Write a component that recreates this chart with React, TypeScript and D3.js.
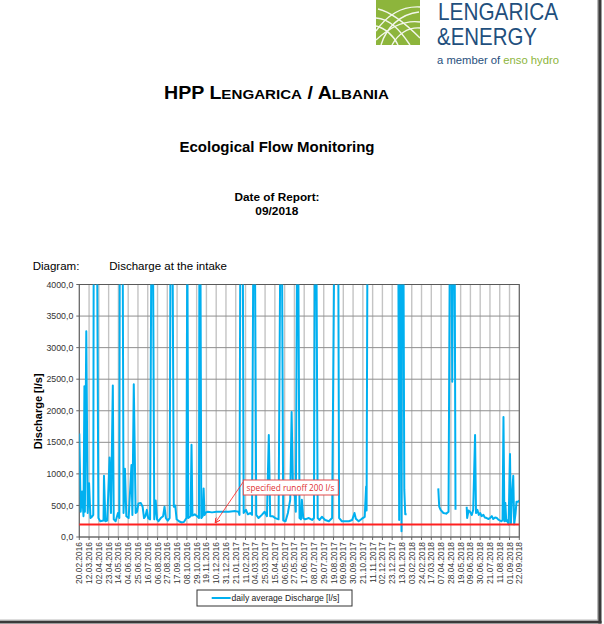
import React from "react";
import * as d3 from "d3";

const tickLabels = [
  "20.02.2016", "12.03.2016", "02.04.2016", "23.04.2016", "14.05.2016", "04.06.2016",
  "25.06.2016", "16.07.2016", "06.08.2016", "27.08.2016", "17.09.2016", "08.10.2016",
  "29.10.2016", "19.11.2016", "10.12.2016", "31.12.2016", "21.01.2017", "11.02.2017",
  "04.03.2017", "25.03.2017", "15.04.2017", "06.05.2017", "27.05.2017", "17.06.2017",
  "08.07.2017", "29.07.2017", "19.08.2017", "09.09.2017", "30.09.2017", "21.10.2017",
  "11.11.2017", "02.12.2017", "23.12.2017", "13.01.2018", "03.02.2018", "24.02.2018",
  "17.03.2018", "07.04.2018", "28.04.2018", "19.05.2018", "09.06.2018", "30.06.2018",
  "21.07.2018", "11.08.2018", "01.09.2018", "22.09.2018",
];

// day offsets from 20.02.2016 (null value = no data)
const dayOffsets = [
  0, 3, 6, 9, 11, 12, 15, 18, 21, 24, 27, 30, 31, 34, 36, 38, 41, 45, 52, 53, 56, 60, 65, 68, 72,
  74, 78, 83, 86, 87, 90, 93, 95, 98, 101, 106, 112, 114, 117, 121, 124, 127, 132, 136, 139, 142,
  145, 148, 152, 155, 158, 161, 164, 167, 170, 175, 180, 183, 186, 190, 194, 196, 200, 203, 206,
  209, 214, 220, 225, 230, 232, 234, 239, 241, 243, 248, 253, 257, 258, 260, 262, 265, 267, 269,
  272, 276, 285, 295, 306, 321, 335, 342, 344, 346, 348, 351, 353, 358, 362, 367, 371, 374, 377,
  380, 385, 392, 398, 403, 407, 410, 415, 421, 428, 432, 435, 438, 443, 448, 453, 456, 459, 463,
  465, 468, 470, 473, 476, 478, 481, 485, 493, 500, 504, 506, 509, 512, 516, 521, 528, 536, 543,
  548, 551, 553, 556, 558, 564, 571, 579, 586, 591, 594, 600, 607, 613, 616, 617, 619,
  650,
  685, 687, 688, 690, 692, 693, 696, 698, 700, 703,
  740,
  771, 773, 776, 782, 788, 793, 796, 799, 801, 803, 806, 808,
  820,
  832, 833, 836, 839, 843, 846, 850, 852, 855, 858, 861, 864, 868, 871, 875, 879, 882, 886, 889,
  893, 897, 900, 904, 907, 909, 911, 913, 915, 917, 919, 922, 925, 927, 929, 932, 934, 937, 939,
  943, 945,
];

const discharge: (number | null)[] = [
  1640, 400, 720, 330, 2390, 400, 3260, 380, 850, 300, 320, 350, 5000, 5000, 5000, 5000, 300, 250,
  260, 970, 250, 260, 1260, 380, 2400, 280, 250, 380, 300, 5000, 5000, 5000, 380, 1080, 330, 300,
  1140, 350, 2420, 380, 400, 530, 540, 480, 300, 330, 430, 300, 280, 5000, 5000, 280, 580, 280,
  250, 300, 330, 480, 300, 260, 300, 5000, 5000, 480, 500, 280, 250, 230, 240, 300, 5000, 300,
  330, 1460, 340, 360, 330, 300, 5000, 5000, 300, 330, 770, 350, 390, 400, 390, 400, 400, 400,
  410, 400, 350, 5000, 5000, 5000, 380, 430, 360, 380, 350, 5000, 5000, 350, 300, 350, 400, 330,
  1615, 330, 330, 300, 280, 5000, 5000, 260, 250, 380, 590, 1980, 700, 650, 400, 5000, 5000, 300,
  280, 590, 300, 280, 300, 270, 300, 5000, 5000, 300, 270, 320, 270, 250, 300, 5000, 5000, 5000,
  5000, 300, 250, 250, 250, 270, 380, 290, 250, 290, 320, 800, 420, 5000,
  null,
  5000, 270, 5000, 5000, 90, 5000, 5000, 750, 360, 360,
  null,
  770, 480, 430, 380, 370, 400, 5000, 5000, 2460, 5000, 5000, 430,
  null,
  480, 300, 420, 400, 350, 430, 1615, 380, 430, 350, 380, 330, 350, 310, 300, 285, 300, 330, 285,
  310, 300, 275, 260, 250, 270, 1900, 250, 540, 250, 270, 200, 1315, 220, 590, 970, 200, 380, 560,
  560, 580,
];

const yTicks = [0, 500, 1000, 1500, 2000, 2500, 3000, 3500, 4000];
const specifiedRunoff = 200;
const annotationText = "specified runoff 200 l/s";
const legendLabel = "daily average Discharge [l/s]";

const ARIAL = "'Liberation Sans', Arial, sans-serif";

export default function App() {
  const W = 604;
  const H = 624;
  const x0 = 79.3, x1 = 519.3, y0 = 284.5, y1 = 537;
  const parse = d3.timeParse("%d.%m.%Y");
  const tickDates = tickLabels.map((t) => parse(t) as Date);
  const start = tickDates[0];
  const end = tickDates[tickDates.length - 1];
  const x = d3.scaleTime().domain([start, end]).range([x0, x1]);
  const y = d3.scaleLinear().domain([0, 4000]).range([y1, y0]);

  const pts = dayOffsets.map((d, i) => ({ date: d3.timeDay.offset(start, d), v: discharge[i] }));
  const line = d3
    .line<{ date: Date; v: number | null }>()
    .defined((p) => p.v != null)
    .x((p) => x(p.date))
    .y((p) => y(p.v as number));
  const fmt = (v: number) => d3.format(".1f")(v).replace(".", ",");

  const blue = "#00b0f0";
  const red = "#ff2020";
  const navy = "#1f4f7d";
  const green = "#8db53c";

  return (
    <svg
      width={W}
      height={H}
      style={{ position: "absolute", left: 0, top: 0, background: "#fff" }}
      fontFamily={ARIAL}
    >
      <defs>
        <clipPath id="plotClip">
          <rect x={x0} y={y0} width={x1 - x0} height={y1 - y0} />
        </clipPath>
        <marker id="arr" viewBox="0 0 10 10" refX="9" refY="5" markerWidth="7" markerHeight="7" orient="auto">
          <path d="M0,0 L10,5 L0,10" fill="none" stroke={red} strokeWidth="1.6" />
        </marker>
      </defs>
      <rect x={0} y={0} width={W} height={H} fill="#fff" />

      {/* logo */}
      <rect x={376} y={0} width={44} height={45} fill={green} />
      <g stroke="#fff" strokeWidth={1.4} fill="none" opacity={0.9}>
        <path d="M376,31 C388,14 402,6 420,7" />
        <path d="M376,40 C391,26 405,20 420,22" />
        <path d="M381,45 C386,28 400,14 419,12" />
        <path d="M376,18 C390,19 400,30 410,45" />
        <path d="M378,9 C392,12 406,24 420,38" />
        <path d="M392,45 C398,34 408,27 420,28" />
        <path d="M376,26 C385,28 394,36 398,45" />
      </g>
      <text x={438} y={20} fontSize={24} fill={navy} textLength={120} lengthAdjust="spacingAndGlyphs" fontWeight={300}>
        LENGARICA
      </text>
      <text x={437} y={45} fontSize={24} fill={navy} textLength={100} lengthAdjust="spacingAndGlyphs" fontWeight={300}>
        &amp;ENERGY
      </text>
      <text x={437} y={64} fontSize={10.5} textLength={122} lengthAdjust="spacingAndGlyphs">
        <tspan fill={navy}>a member of </tspan>
        <tspan fill={green}>enso hydro</tspan>
      </text>

      {/* titles */}
      <g fontWeight="bold" fill="#000">
        <text x={164} y={98.5} textLength={225} lengthAdjust="spacingAndGlyphs">
          <tspan fontSize={17.5}>HPP L</tspan>
          <tspan fontSize={13.5}>ENGARICA</tspan>
          <tspan fontSize={17.5}> / A</tspan>
          <tspan fontSize={13.5}>LBANIA</tspan>
        </text>
        <text x={179.5} y={151.7} fontSize={14} textLength={195} lengthAdjust="spacingAndGlyphs">
          Ecological Flow Monitoring
        </text>
        <text x={234.5} y={201} fontSize={11} textLength={85} lengthAdjust="spacingAndGlyphs">Date of Report:</text>
        <text x={255.3} y={215} fontSize={11} textLength={43} lengthAdjust="spacingAndGlyphs">09/2018</text>
      </g>

      <text x={32.7} y={270} fontSize={11.5} fill="#000">Diagram:</text>
      <text x={109.3} y={270} fontSize={11.5} fill="#000">Discharge at the intake</text>

      {/* grid */}
      {tickDates.map((d, i) => (
        <line key={"vg" + i} x1={x(d)} x2={x(d)} y1={y0} y2={y1} stroke="#c4c4c4" strokeWidth={1.4} />
      ))}
      {yTicks.map((t) => (
        <line key={"hg" + t} x1={x0} x2={x1} y1={y(t)} y2={y(t)} stroke="#8f8f8f" strokeWidth={1} />
      ))}
      {/* ticks */}
      {tickDates.map((d, i) => (
        <line key={"xt" + i} x1={x(d)} x2={x(d)} y1={y1} y2={y1 + 3} stroke="#666" strokeWidth={1} />
      ))}
      {yTicks.map((t) => (
        <line key={"yt" + t} x1={x0 - 3} x2={x0} y1={y(t)} y2={y(t)} stroke="#666" strokeWidth={1} />
      ))}
      <rect x={x0} y={y0} width={x1 - x0} height={y1 - y0} fill="none" stroke="#5a5a5a" strokeWidth={1} />

      {/* data */}
      <g clipPath="url(#plotClip)">
        <path d={line(pts) || ""} fill="none" stroke={blue} strokeWidth={2} strokeLinejoin="round" />
      </g>
      <line x1={x0} x2={x1} y1={y(specifiedRunoff)} y2={y(specifiedRunoff)} stroke={red} strokeWidth={2} />

      {/* y labels */}
      {yTicks.map((t) => (
        <text key={"yl" + t} x={73.3} y={y(t)} dy="0.35em" textAnchor="end" fontSize={8.8} fill="#333">
          {fmt(t)}
        </text>
      ))}
      <text
        transform={`translate(41.5,${(y0 + y1) / 2 + 0.5}) rotate(-90)`}
        textAnchor="middle"
        fontSize={11}
        fontWeight="bold"
        fill="#000"
      >
        Discharge [l/s]
      </text>

      {/* x labels */}
      {tickDates.map((d, i) => (
        <text
          key={"xl" + i}
          transform={`translate(${x(d) + 3},${y1 + 5}) rotate(-90)`}
          textAnchor="end"
          fontSize={8.4}
          fill="#333"
        >
          {tickLabels[i]}
        </text>
      ))}

      {/* annotation */}
      <line x1={243.5} y1={481.5} x2={215.5} y2={522.5} stroke={red} strokeWidth={0.8} markerEnd="url(#arr)" />
      <rect x={243.3} y={480} width={95} height={15} fill="#fff" stroke="#e24a4a" strokeWidth={1} />
      <text x={246.5} y={491} fontSize={9.2} fill="#e03030" fontFamily="'Open Sans', 'Noto Sans', sans-serif" textLength={88} lengthAdjust="spacingAndGlyphs">
        {annotationText}
      </text>

      {/* legend */}
      <rect x={197} y={590} width={155} height={16} fill="#fff" stroke="#333" strokeWidth={1} />
      <line x1={211.7} x2={230.7} y1={598} y2={598} stroke={blue} strokeWidth={2} />
      <text x={231.5} y={601.3} fontSize={8.6} fill="#222">{legendLabel}</text>

      {/* page frame */}
      <rect x={597} y={0} width={1.3} height={621} fill="#bbb" />
      <rect x={598.3} y={0} width={3.2} height={623.5} fill="#3a3a3a" />
      <rect x={0} y={619.5} width={598} height={1.3} fill="#bbb" />
      <rect x={0} y={620.8} width={601.5} height={2.7} fill="#3a3a3a" />
    </svg>
  );
}
